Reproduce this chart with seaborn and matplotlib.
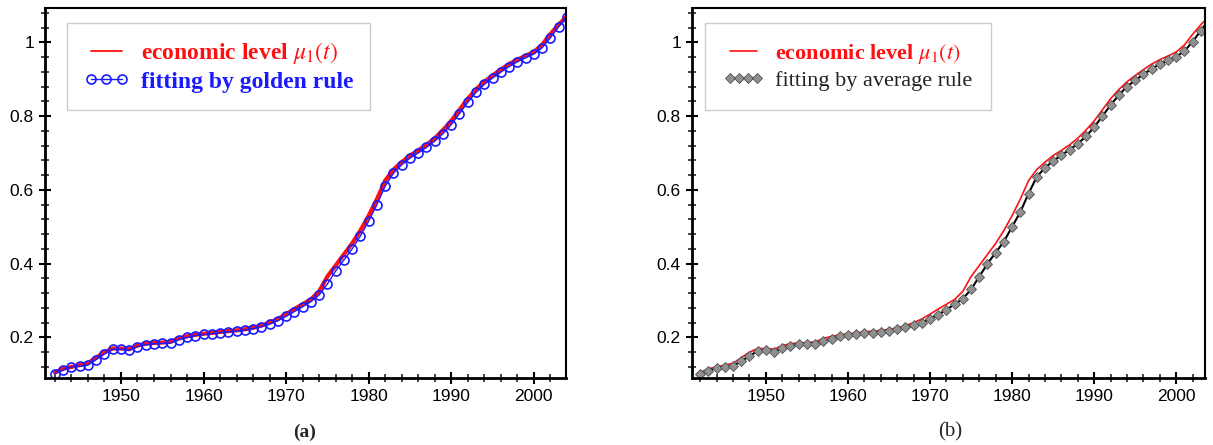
import numpy as np
import pandas as pd
import matplotlib
matplotlib.use("Agg")
import matplotlib.pyplot as plt
import seaborn as sns
from matplotlib.ticker import MultipleLocator

years = list(range(1942, 2005))
economic_level = [0.105, 0.115, 0.12, 0.125, 0.13, 0.145, 0.16, 0.17, 0.17, 0.168,
                  0.178, 0.183, 0.185, 0.186, 0.188, 0.197, 0.203, 0.207, 0.21, 0.212,
                  0.215, 0.217, 0.219, 0.222, 0.226, 0.232, 0.24, 0.25, 0.263, 0.277,
                  0.29, 0.303, 0.325, 0.365, 0.395, 0.425, 0.455, 0.49, 0.53, 0.575,
                  0.625, 0.655, 0.675, 0.693, 0.707, 0.722, 0.74, 0.762, 0.787, 0.817,
                  0.847, 0.872, 0.893, 0.91, 0.926, 0.941, 0.953, 0.963, 0.974, 0.993,
                  1.022, 1.048, 1.07]
golden_fit = [0.102, 0.112, 0.12, 0.122, 0.125, 0.14, 0.155, 0.168, 0.168, 0.165,
              0.175, 0.18, 0.183, 0.184, 0.185, 0.194, 0.2, 0.205, 0.208, 0.21,
              0.213, 0.215, 0.217, 0.22, 0.224, 0.229, 0.236, 0.245, 0.257, 0.27,
              0.283, 0.297, 0.315, 0.345, 0.38, 0.41, 0.44, 0.475, 0.515, 0.56,
              0.61, 0.645, 0.668, 0.686, 0.7, 0.715, 0.732, 0.752, 0.777, 0.807,
              0.837, 0.864, 0.886, 0.903, 0.919, 0.934, 0.947, 0.958, 0.968, 0.985,
              1.012, 1.042, 1.068]
average_fit = [0.1, 0.11, 0.117, 0.12, 0.123, 0.135, 0.15, 0.163, 0.167, 0.16,
               0.172, 0.178, 0.182, 0.183, 0.183, 0.19, 0.197, 0.203, 0.206, 0.208,
               0.211, 0.213, 0.215, 0.218, 0.222, 0.227, 0.233, 0.24, 0.25, 0.262,
               0.275, 0.29, 0.305, 0.33, 0.365, 0.4, 0.43, 0.46, 0.5, 0.54,
               0.59, 0.635, 0.66, 0.678, 0.694, 0.709, 0.725, 0.745, 0.77, 0.8,
               0.83, 0.857, 0.88, 0.897, 0.913, 0.928, 0.941, 0.951, 0.961, 0.976,
               1.002, 1.032, 1.062]

y_ticks = [0.2, 0.4, 0.6, 0.8, 1.0]
y_tick_labels = ["0.2", "0.4", "0.6", "0.8", "1"]
x_ticks = [1950, 1960, 1970, 1980, 1990, 2000]

df = pd.DataFrame({"year": years, "level": economic_level,
                   "golden": golden_fit, "average": average_fit})

sns.set_style("white")
plt.rcParams["font.family"] = ["Liberation Sans", "DejaVu Sans"]
plt.rcParams["mathtext.fontset"] = "stix"

fig = plt.figure(figsize=(12.13, 4.45), dpi=100)
ax1 = fig.add_axes([45/1213, 1-378/445, 521/1213, 370/445])
ax2 = fig.add_axes([692/1213, 1-378/445, 513/1213, 370/445])

# panel (a)
sns.lineplot(data=df, x="year", y="level", ax=ax1, color="#ff1010", lw=3.0,
             label=r"economic level $\mu_1(t)$")
sns.lineplot(data=df, x="year", y="golden", ax=ax1, color="#1a1aff", lw=1.0,
             marker="o", markersize=6.5, markerfacecolor="none",
             markeredgecolor="#1a1aff", markeredgewidth=1.2,
             label="fitting by golden rule")

# panel (b)
sns.lineplot(data=df, x="year", y="level", ax=ax2, color="#ff1010", lw=1.2,
             label=r"economic level $\mu_1(t)$")
sns.lineplot(data=df, x="year", y="average", ax=ax2, color="black", lw=1.5,
             marker="D", markersize=5, markerfacecolor="#909090",
             markeredgecolor="#505050", markeredgewidth=0.6,
             label="fitting by average rule")

for ax, xl in ((ax1, (1940.8, 2003.9)), (ax2, (1941.0, 2003.5))):
    ax.set_xlim(*xl)
    ax.set_ylim(0.09, 1.093)
    ax.set_xticks(x_ticks)
    ax.set_xticklabels([str(v) for v in x_ticks])
    ax.set_yticks(y_ticks)
    ax.set_yticklabels(y_tick_labels)
    ax.xaxis.set_minor_locator(MultipleLocator(2))
    ax.yaxis.set_minor_locator(MultipleLocator(0.04))
    ax.tick_params(axis="both", which="major", direction="inout", length=8,
                   width=1.5, labelsize=12.5, colors="black", pad=4,
                   left=True, bottom=True)
    ax.tick_params(axis="both", which="minor", direction="inout", length=6,
                   width=1.2, left=True, bottom=True)
    ax.set_xlabel("")
    ax.set_ylabel("")
    for s in ax.spines.values():
        s.set_color("black")
        s.set_linewidth(1.5)
    ax.spines["left"].set_linewidth(2)
    ax.spines["bottom"].set_linewidth(2)
    ax.grid(False)

leg1 = ax1.legend(loc="upper left", bbox_to_anchor=(0.042, 0.96), frameon=True,
                  fancybox=False, edgecolor="#c0c0c0", handlelength=1.9,
                  numpoints=3, prop={"family": "Liberation Serif", "weight": "bold", "size": 17},
                  borderpad=0.72, labelspacing=0.22, handletextpad=0.5,
                  borderaxespad=0)
leg1.get_texts()[0].set_color("#ff1010")
leg1.get_texts()[1].set_color("#1a1aff")
leg1.get_lines()[0].set_linewidth(1.3)

leg2 = ax2.legend(loc="upper left", bbox_to_anchor=(0.025, 0.96), frameon=True,
                  fancybox=False, edgecolor="#c0c0c0", handlelength=1.8,
                  numpoints=4, prop={"family": "Liberation Serif", "size": 16},
                  borderpad=0.85, labelspacing=0.22, handletextpad=0.5,
                  borderaxespad=0)
leg2.get_texts()[0].set_color("#ff1010")
leg2.get_texts()[0].set_fontweight("bold")
leg2.get_texts()[1].set_color("#222222")

fig.text(305/1213, 1-432/445, "(a)", ha="center", va="center",
         family="Liberation Serif", weight="bold", fontsize=14)
fig.text(950/1213, 1-432/445, "(b)", ha="center", va="center",
         family="Liberation Serif", fontsize=15)

fig.savefig("out.png", dpi=100)
